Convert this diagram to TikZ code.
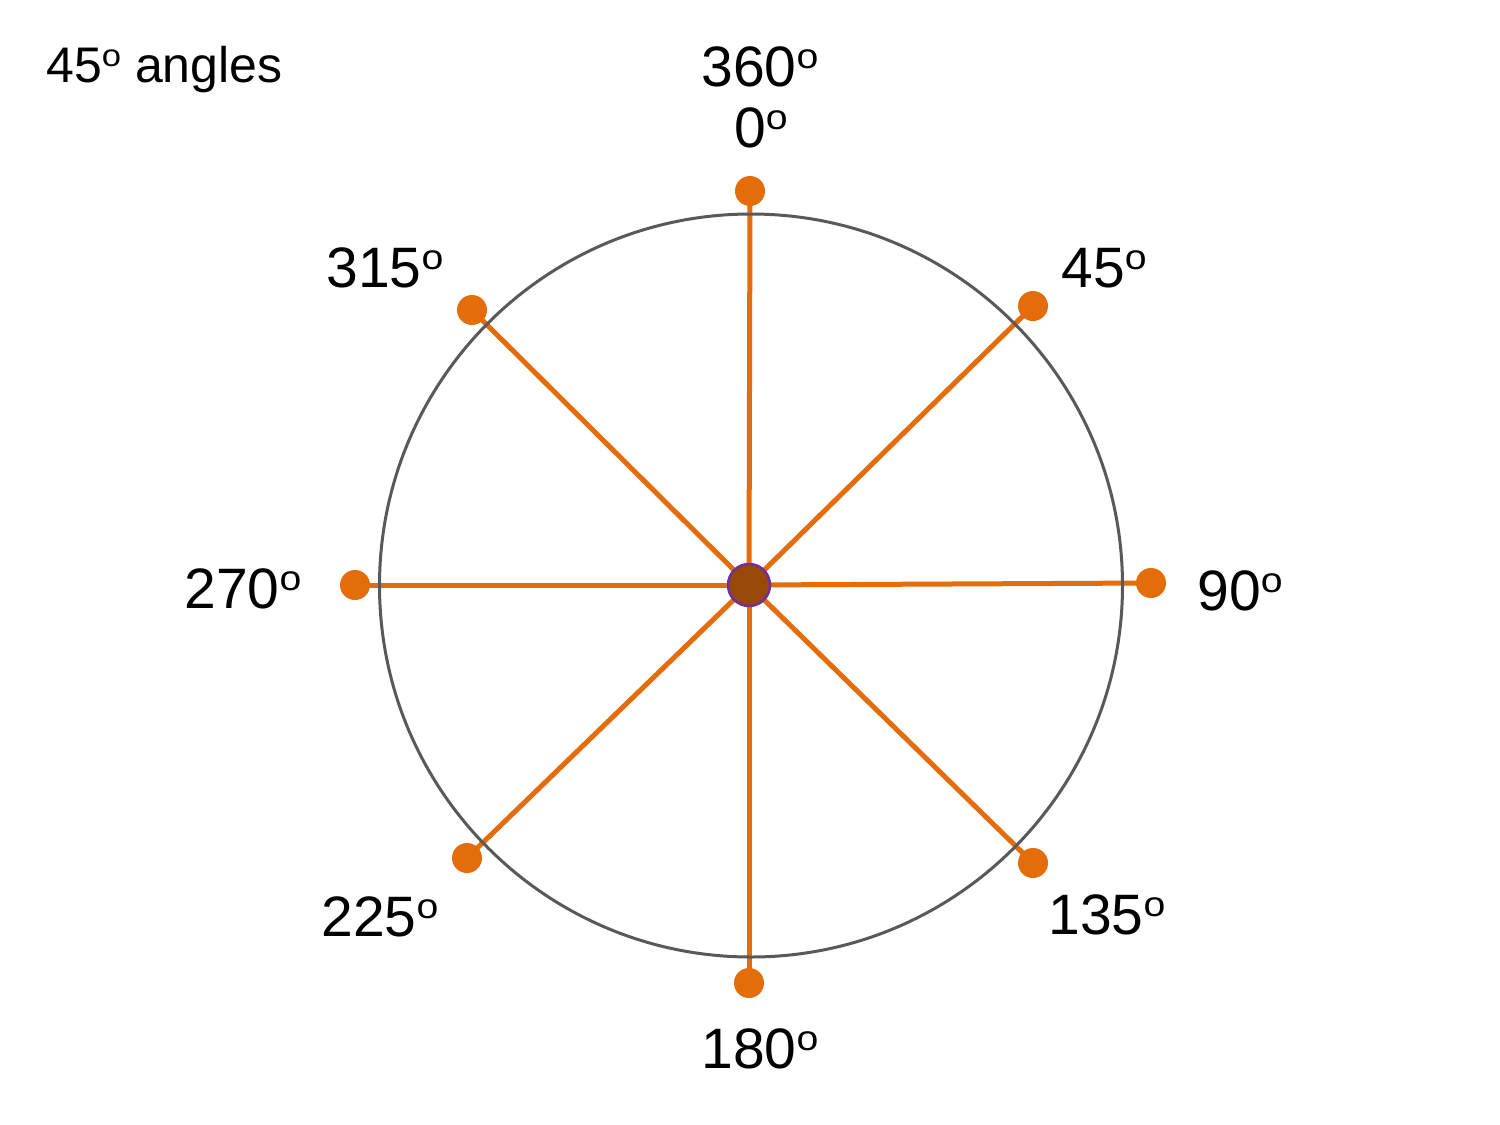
\documentclass[tikz,border=0pt]{standalone}
\usepackage{fontspec}
\setmainfont{Liberation Sans}
\definecolor{spoke}{HTML}{E46C0A}
\definecolor{rim}{HTML}{595959}
\definecolor{hub}{HTML}{984807}
\definecolor{hubline}{HTML}{7030A0}
\newcommand\dgbig{\raisebox{18pt}{\fontsize{35}{35}\selectfont\scalebox{1.12}[1]{o}}}
\newcommand\dgsmall{\raisebox{16pt}{\fontsize{31}{31}\selectfont\scalebox{1.12}[1]{o}}}
\pgfdeclarelayer{back}
\pgfdeclarelayer{bg}
\pgfsetlayers{back,bg,main}
\begin{document}
\begin{tikzpicture}[x=1pt,y=-1pt,
  dot/.style={circle,fill=spoke,draw=none,minimum size=30pt,inner sep=0pt},
  hubdot/.style={circle,fill=hub,draw=hubline,line width=2.5pt,minimum size=42pt,inner sep=0pt},
  spokeline/.style={draw=spoke,line width=5pt},
  biglabel/.style={anchor=base,inner sep=0pt,font=\fontsize{57}{60}\selectfont},
  smalllabel/.style={anchor=base,inner sep=0pt,font=\fontsize{50}{54}\selectfont}]
\begin{pgfonlayer}{back}
\fill[white] (0,0) rectangle (1500,1125);
\end{pgfonlayer}
\useasboundingbox (0,0) rectangle (1500,1125);
\draw[rim,line width=3pt] (751,585.5) circle (371.5);
\node[hubdot] (c) at (749,585) {};
\node[dot] (d0) at (750,191) {};
\node[dot] (d45) at (1033,306) {};
\node[dot] (d90) at (1151,583) {};
\node[dot] (d135) at (1033,863) {};
\node[dot] (d180) at (749,983) {};
\node[dot] (d225) at (467,858) {};
\node[dot] (d270) at (355,585) {};
\node[dot] (d315) at (472,310) {};
\begin{pgfonlayer}{bg}
\foreach \d in {d0,d45,d90,d135,d180,d225,d270,d315}
  \path[spokeline] (c.center) -- (\d.center);
\end{pgfonlayer}
\node[biglabel] (l360) at (760,86) {360\dgbig};
\node[biglabel] (l0) at (761,147) {0\dgbig};
\node[biglabel] (l315) at (385,287) {315\dgbig};
\node[biglabel] (l45) at (1104,287) {45\dgbig};
\node[biglabel] (l270) at (243,608) {270\dgbig};
\node[biglabel] (l90) at (1240,610) {90\dgbig};
\node[biglabel] (l225) at (380,936) {225\dgbig};
\node[biglabel] (l135) at (1107,934) {135\dgbig};
\node[biglabel] (l180) at (760,1068) {180\dgbig};
\node[smalllabel,anchor=base west] (title) at (46,82) {45\dgsmall{} angles};
\end{tikzpicture}
\end{document}
